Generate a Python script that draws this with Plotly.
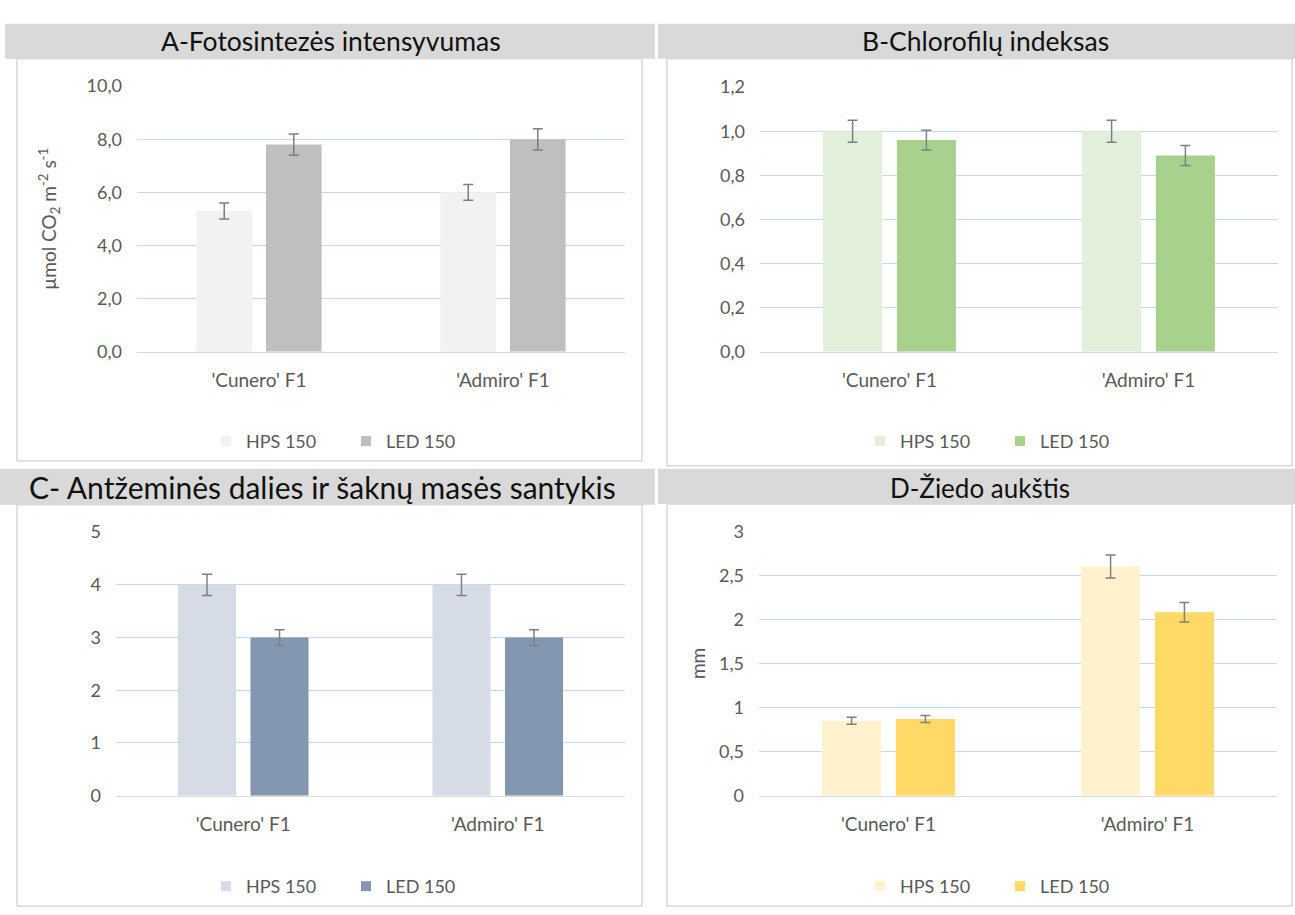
import plotly.graph_objects as go

# ---- data -------------------------------------------------------------
cultivars = ["'Cunero' F1", "'Admiro' F1"]
series_names = ["HPS 150", "LED 150"]

photo_hps = [5.3, 6.0]
photo_led = [7.8, 8.0]
photo_hps_err = [0.3, 0.3]
photo_led_err = [0.4, 0.4]

chl_hps = [1.0, 1.0]
chl_led = [0.96, 0.89]
chl_hps_err = [0.05, 0.05]
chl_led_err = [0.045, 0.045]

ratio_hps = [4.0, 4.0]
ratio_led = [3.0, 3.0]
ratio_hps_err = [0.2, 0.2]
ratio_led_err = [0.15, 0.15]

flower_hps = [0.85, 2.6]
flower_led = [0.87, 2.08]
flower_hps_err = [0.04, 0.13]
flower_led_err = [0.04, 0.11]

titles = [
    "A-Fotosintezės intensyvumas",
    "B-Chlorofilų indeksas",
    "C- Antžeminės dalies ir šaknų masės santykis",
    "D-Žiedo aukštis",
]

# ---- page geometry (pixels) --------------------------------------------
W, H = 1295, 915
FONT = "Lato, 'Open Sans', 'DejaVu Sans', sans-serif"
TICK_COLOR = "#595959"
GRID = "#c3d9ef"


def px(x):
    return x / W


def py(y):
    return 1 - y / H


panels = [
    dict(vals=(photo_hps, photo_led), errs=(photo_hps_err, photo_led_err),
         colors=("#f2f2f2", "#bfbfbf"), xd=(137, 625), yd=(76, 348),
         yr=(0, 10), dtick=2, fmt=".1f",
         ytitle="µmol CO<sub>2</sub> m<sup>-2</sup> s<sup>-1</sup>", ystand=24,
         band=(5, 655, 12, 48), box=(17, 642, 48, 460), tx=331, ty=30,
         tsize=26.5, leg=(206, 440)),
    dict(vals=(chl_hps, chl_led), errs=(chl_hps_err, chl_led_err),
         colors=("#e2efda", "#a9d18e"), xd=(760, 1278), yd=(77, 348),
         yr=(0, 1.2), dtick=0.2, fmt=".1f", ytitle=None, ystand=0,
         band=(658, 1295, 12, 48), box=(667, 1292, 48, 465), tx=985, ty=30,
         tsize=26.5, leg=(860, 440)),
    dict(vals=(ratio_hps, ratio_led), errs=(ratio_hps_err, ratio_led_err),
         colors=("#d6dce5", "#8497b0"), xd=(116, 625), yd=(533, 803),
         yr=(0, 5), dtick=1, fmt="", ytitle=None, ystand=0,
         band=(0, 655, 468, 505), box=(17, 642, 505, 916), tx=322, ty=487,
         tsize=30, leg=(206, 896)),
    dict(vals=(flower_hps, flower_led), errs=(flower_hps_err, flower_led_err),
         colors=("#fff2cc", "#ffd966"), xd=(759, 1277), yd=(532, 803),
         yr=(0, 3), dtick=0.5, fmt="", ytitle="mm", ystand=8,
         band=(658, 1295, 468, 504), box=(667, 1292, 504, 916), tx=980, ty=488,
         tsize=26, leg=(860, 896)),
]

fig = go.Figure()
shapes = []
annotations = []
layout_extra = {}

for i, p in enumerate(panels):
    n = "" if i == 0 else str(i + 1)
    xa, ya = "x" + n, "y" + n
    leg_name = "legend" + n

    for k in range(2):
        fig.add_trace(go.Bar(
            x=cultivars, y=p["vals"][k], name=series_names[k],
            marker=dict(color=p["colors"][k], line=dict(width=0)),
            error_y=dict(type="data", array=p["errs"][k], color="#7f7f7f",
                         thickness=1.5, width=5),
            xaxis=xa, yaxis=ya, showlegend=False, hoverinfo="skip",
        ))
    # small square swatches for the legend
    for k in range(2):
        fig.add_trace(go.Scatter(
            x=[None], y=[None], mode="markers", name=series_names[k],
            marker=dict(symbol="square", size=10, color=p["colors"][k]),
            xaxis=xa, yaxis=ya, legend=leg_name, hoverinfo="skip",
        ))

    layout_extra["xaxis" + n] = dict(
        domain=[px(p["xd"][0]), px(p["xd"][1])], anchor=ya,
        showgrid=False, showline=True, linecolor="#d9d9d9", linewidth=1,
        ticks="", ticklabelstandoff=12,
        tickfont=dict(family=FONT, size=19, color=TICK_COLOR),
        fixedrange=True,
    )
    yaxis = dict(
        domain=[py(p["yd"][1]), py(p["yd"][0])], anchor=xa,
        range=list(p["yr"]), dtick=p["dtick"], tick0=0, tickformat=p["fmt"],
        showgrid=True, gridcolor=GRID, gridwidth=1, zeroline=False,
        showline=False, ticks="", ticklabelstandoff=14,
        tickfont=dict(family=FONT, size=18, color=TICK_COLOR),
        fixedrange=True,
    )
    if p["ytitle"]:
        yaxis["title"] = dict(text=p["ytitle"], standoff=p["ystand"],
                              font=dict(family=FONT, size=19, color=TICK_COLOR))
    layout_extra["yaxis" + n] = yaxis
    layout_extra[leg_name] = dict(
        orientation="h", x=px(p["leg"][0]), y=py(p["leg"][1]),
        xanchor="left", yanchor="middle", bgcolor="rgba(0,0,0,0)",
        font=dict(family=FONT, size=18, color=TICK_COLOR),
        itemclick=False, itemdoubleclick=False, entrywidth=95,
    )

    bx0, bx1, by0, by1 = p["band"]
    shapes.append(dict(type="rect", xref="paper", yref="paper",
                       x0=px(bx0), x1=px(bx1), y0=py(by1), y1=py(by0),
                       fillcolor="#d9d9d9", line=dict(width=0), layer="below"))
    cx0, cx1, cy0, cy1 = p["box"]
    shapes.append(dict(type="rect", xref="paper", yref="paper",
                       x0=px(cx0), x1=px(cx1), y0=py(cy1), y1=py(cy0),
                       fillcolor="rgba(0,0,0,0)",
                       line=dict(color="#d9d9d9", width=1.5), layer="below"))
    annotations.append(dict(text=titles[i], xref="paper", yref="paper",
                            x=px(p["tx"]), y=py(p["ty"]), showarrow=False,
                            xanchor="center", yanchor="middle",
                            font=dict(family=FONT, size=p["tsize"], color="#111111")))

fig.update_layout(
    width=W, height=H, margin=dict(l=0, r=0, t=0, b=0),
    paper_bgcolor="white", plot_bgcolor="white",
    barmode="group", bargap=0.43, bargroupgap=0.2,
    separators=", ", shapes=shapes, annotations=annotations,
    font=dict(family=FONT), **layout_extra,
)

fig.write_html("out.html", config=dict(displayModeBar=False))
